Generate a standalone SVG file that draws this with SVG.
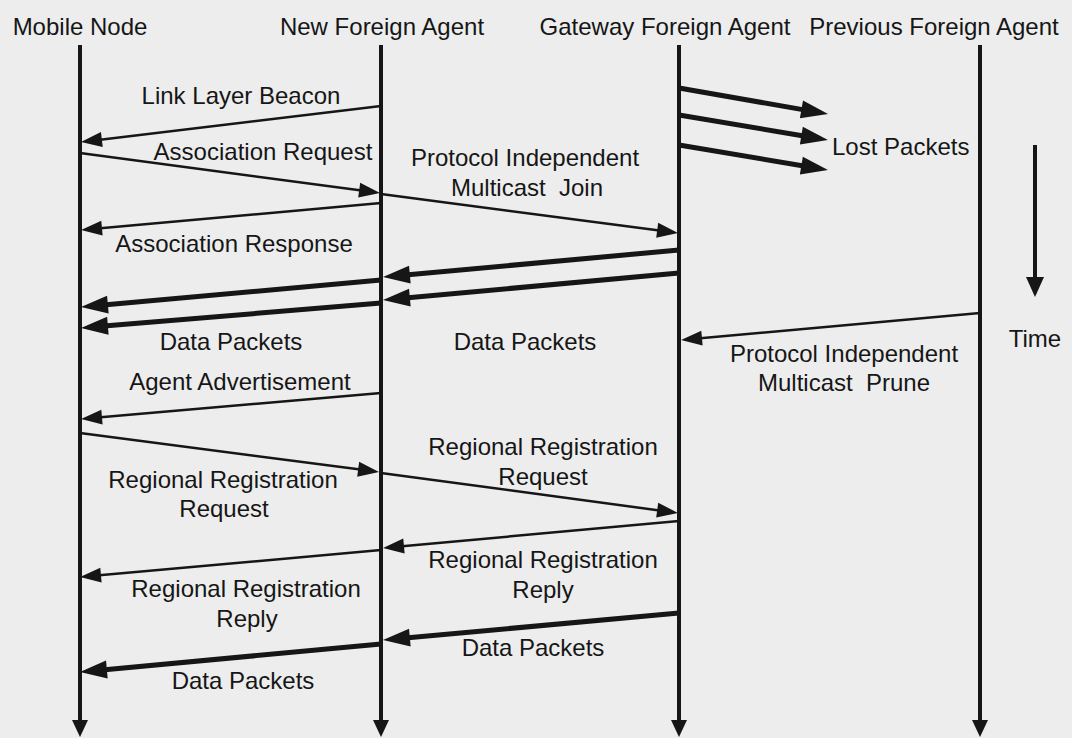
<svg xmlns="http://www.w3.org/2000/svg" width="1072" height="738" viewBox="0 0 1072 738">
<defs>
<style>
text{font-family:"Liberation Sans",Arial,sans-serif;font-size:24px;fill:#161616;text-anchor:middle}
.ll{stroke:#161616;stroke-width:4;fill:none}
.thin{stroke:#161616;stroke-width:2.5;fill:none;marker-end:url(#ah)}
.thick{stroke:#161616;stroke-width:5;fill:none;marker-end:url(#ahb)}
</style>
<marker id="ah" markerUnits="userSpaceOnUse" markerWidth="22" markerHeight="16" refX="10" refY="7.5" orient="auto" overflow="visible"><path d="M0,0 L21,7.5 L0,15 z" fill="#161616"/></marker>
<marker id="ahb" markerUnits="userSpaceOnUse" markerWidth="28" markerHeight="19" refX="10" refY="9" orient="auto" overflow="visible"><path d="M0,0 L27,9 L0,18 z" fill="#161616"/></marker>
<marker id="ahd" markerUnits="userSpaceOnUse" markerWidth="18" markerHeight="17" refX="7" refY="8" orient="auto" overflow="visible"><path d="M0,0 L17,8 L0,16 z" fill="#161616"/></marker>
<marker id="aht" markerUnits="userSpaceOnUse" markerWidth="21" markerHeight="19" refX="8" refY="9" orient="auto" overflow="visible"><path d="M0,0 L20,9 L0,18 z" fill="#161616"/></marker>
</defs>
<rect x="0" y="0" width="1072" height="738" fill="#ededed"/>

<g id="mobile-node">
<text x="80" y="35">Mobile Node</text>
<line class="ll" x1="80" y1="45" x2="80" y2="727" marker-end="url(#ahd)"/>
</g>
<g id="new-foreign-agent">
<text x="382" y="35">New Foreign Agent</text>
<line class="ll" x1="381" y1="45" x2="381" y2="727" marker-end="url(#ahd)"/>
</g>
<g id="gateway-foreign-agent">
<text x="665" y="35">Gateway Foreign Agent</text>
<line class="ll" x1="679" y1="45" x2="679" y2="727" marker-end="url(#ahd)"/>
</g>
<g id="previous-foreign-agent">
<text x="934" y="35">Previous Foreign Agent</text>
<line class="ll" x1="980" y1="45" x2="980" y2="727" marker-end="url(#ahd)"/>
</g>
<g id="time">
<line class="ll" x1="1035" y1="145" x2="1035" y2="285" marker-end="url(#aht)"/>
<text x="1035" y="347">Time</text>
</g>

<g id="connectors">
<line class="thin" x1="381" y1="106" x2="91.9" y2="140.7"/>
<line class="thin" x1="80" y1="153" x2="369.1" y2="191.5"/>
<line class="thin" x1="381" y1="194" x2="667.1" y2="231.6"/>
<line class="thin" x1="381" y1="203" x2="92" y2="229"/>
<line class="thick" x1="679" y1="88" x2="811.3" y2="111.1"/>
<line class="thick" x1="679" y1="115" x2="811.2" y2="137.2"/>
<line class="thick" x1="679" y1="145" x2="811.2" y2="167.2"/>
<line class="thick" x1="679" y1="250" x2="399.9" y2="275.5"/>
<line class="thick" x1="679" y1="273" x2="399.9" y2="298.5"/>
<line class="thick" x1="381" y1="280" x2="97.9" y2="305.5"/>
<line class="thick" x1="381" y1="303" x2="97.9" y2="326.6"/>
<line class="thin" x1="980" y1="313" x2="692" y2="339"/>
<line class="thin" x1="381" y1="393" x2="92" y2="418"/>
<line class="thin" x1="80" y1="433" x2="368.1" y2="470.6"/>
<line class="thin" x1="381" y1="473" x2="667.1" y2="511.5"/>
<line class="thin" x1="679" y1="521" x2="394" y2="547"/>
<line class="thin" x1="381" y1="550" x2="91" y2="576"/>
<line class="thick" x1="679" y1="613" x2="399.9" y2="638.5"/>
<line class="thick" x1="381" y1="644" x2="96.9" y2="670.4"/>
</g>

<g id="labels">
<text x="241" y="104">Link Layer Beacon</text>
<text x="263" y="160">Association Request</text>
<text x="525" y="166">Protocol Independent</text>
<text x="527" y="196" xml:space="preserve">Multicast  Join</text>
<text x="832" y="155" style="text-anchor:start">Lost Packets</text>
<text x="234" y="252">Association Response</text>
<text x="231" y="350">Data Packets</text>
<text x="525" y="350">Data Packets</text>
<text x="844" y="362">Protocol Independent</text>
<text x="844" y="391" xml:space="preserve">Multicast  Prune</text>
<text x="240" y="390">Agent Advertisement</text>
<text x="543" y="455">Regional Registration</text>
<text x="543" y="485">Request</text>
<text x="223" y="488">Regional Registration</text>
<text x="224" y="517">Request</text>
<text x="543" y="568">Regional Registration</text>
<text x="543" y="598">Reply</text>
<text x="246" y="597">Regional Registration</text>
<text x="247" y="627">Reply</text>
<text x="533" y="656">Data Packets</text>
<text x="243" y="689">Data Packets</text>
</g>
</svg>
